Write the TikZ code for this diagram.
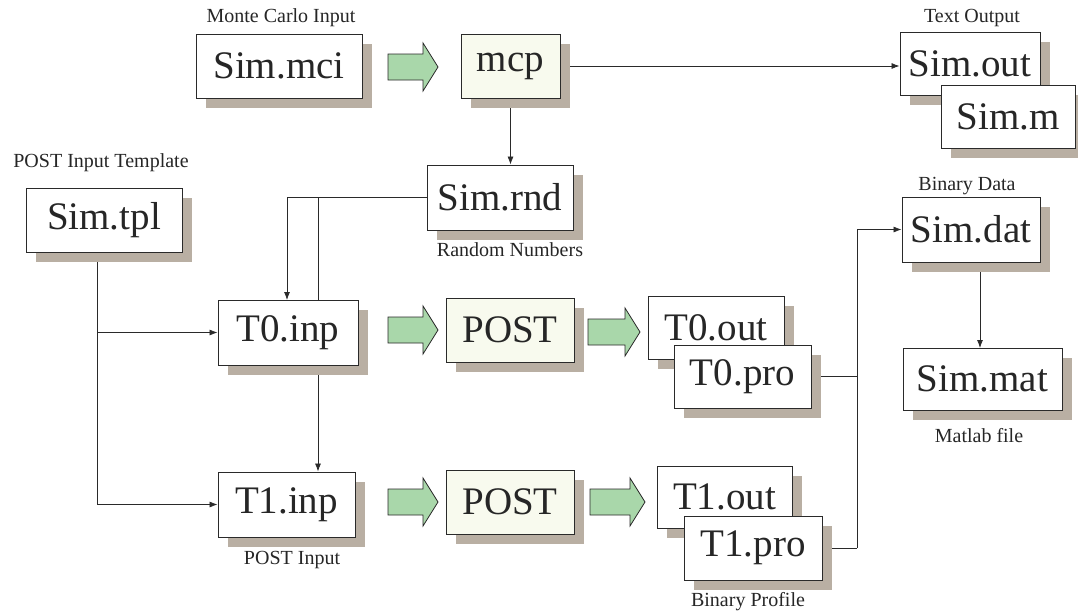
\documentclass[tikz,border=0pt]{standalone}
\usepackage{fontspec}
\setmainfont{Liberation Serif}
\usetikzlibrary{arrows.meta,shadows,backgrounds}
\definecolor{shadowc}{HTML}{B9AFA3}
\definecolor{garrc}{HTML}{A9D7AA}
\definecolor{procc}{HTML}{F8FAEE}
\definecolor{linec}{HTML}{2A2A2A}
\newcommand\blockarrow[3]{% x0, x2, yc
  \path[garr] (#1,#3-13) -- (#2-15,#3-13) -- (#2-15,#3-24) -- (#2,#3) --
    (#2-15,#3+24) -- (#2-15,#3+13) -- (#1,#3+13) -- cycle;}
\begin{document}
\begin{tikzpicture}[x=1pt,y=-1pt,
  filebox/.style={draw=linec, line width=0.9pt, fill=white, inner sep=0pt,
    font=\fontsize{39}{44}\selectfont, text=black!85,
    drop shadow={shadow xshift=10pt, shadow yshift=-10pt, fill=shadowc, opacity=1}},
  procbox/.style={filebox, fill=procc},
  lbl/.style={font=\fontsize{20}{23}\selectfont, text=black!85},
  conn/.style={draw=linec, line width=0.8pt},
  arr/.style={conn, -{Latex[length=8pt,width=6pt]}},
  garr/.style={draw=linec, line width=0.8pt, fill=garrc}
]
\useasboundingbox (0,0) rectangle (1078,614);

% boxes
\node[filebox, minimum width=166pt, minimum height=64pt] (mci) at (279,66) {Sim.mci};
\node[procbox, minimum width=99pt, minimum height=64pt] (mcp) at (510.5,66) {mcp};
\node[filebox, minimum width=140pt, minimum height=63pt] (out) at (970,63.5) {Sim.out};
\node[filebox, minimum width=134pt, minimum height=63pt] (simm) at (1008,116.5) {Sim.m};
\node[filebox, minimum width=156pt, minimum height=64pt] (tpl) at (104,220) {Sim.tpl};
\node[filebox, minimum width=146pt, minimum height=65pt] (rnd) at (500,197.5) {Sim.rnd};
\node[filebox, minimum width=140pt, minimum height=65pt] (t0inp) at (288,332.5) {T0.inp};
\node[procbox, minimum width=128pt, minimum height=64pt] (post0) at (510,330) {POST};
\node[filebox, minimum width=136pt, minimum height=63pt] (t0out) at (716,327.5) {T0.out};
\node[filebox, minimum width=137pt, minimum height=63pt] (t0pro) at (742.5,376.5) {T0.pro};
\node[filebox, minimum width=137pt, minimum height=65pt] (t1inp) at (286.5,504.5) {T1.inp};
\node[procbox, minimum width=128pt, minimum height=64pt] (post1) at (510,502) {POST};
\node[filebox, minimum width=135pt, minimum height=62pt] (t1out) at (724.5,497) {T1.out};
\node[filebox, minimum width=138pt, minimum height=64pt] (t1pro) at (753,548) {T1.pro};
\node[filebox, minimum width=138pt, minimum height=65pt] (dat) at (971,229.5) {Sim.dat};
\node[filebox, minimum width=159pt, minimum height=62pt] (mat) at (982.5,379) {Sim.mat};

% labels
\node[lbl] (lmci) at (281,18) {Monte Carlo Input};
\node[lbl] (lout) at (972,18) {Text Output};
\node[lbl] (ltpl) at (101,163) {POST Input Template};
\node[lbl] (lrnd) at (510,250) {Random Numbers};
\node[lbl] (ldat) at (967,186) {Binary Data};
\node[lbl] (lmat) at (979,436) {Matlab file};
\node[lbl] (linp) at (292,560) {POST Input};
\node[lbl] (lpro) at (748,602) {Binary Profile};

% green block arrows
\blockarrow{388}{438}{67}
\blockarrow{388}{438}{330}
\blockarrow{588}{640}{332}
\blockarrow{388}{438}{502}
\blockarrow{590}{645}{502}

% connectors
\begin{scope}[on background layer]
\fill[white] (0,0) rectangle (1078,614);
\draw[arr] (mcp.east) -- (mcp.east -| out.west);
\draw[arr] (mcp.south) -- (mcp.south |- rnd.north);
\coordinate (j1) at (318,197.5);
\draw[arr] (rnd.west) -| (287,300);
\draw[arr] (j1) -- (j1 |- t1inp.north);
\coordinate (j2) at (97,252);
\draw[arr] (j2) |- (t1inp.west);
\draw[arr] (j2 |- t0inp.west) -- (t0inp.west);
\draw[conn] (t1pro.east) -- ++(35,0) coordinate (k);
\draw[arr] (k) |- (dat.west);
\draw[conn] (t0pro.east) -- (t0pro.east -| k);
\draw[arr] (980,262) -- (980,348);
\end{scope}
\end{tikzpicture}
\end{document}
